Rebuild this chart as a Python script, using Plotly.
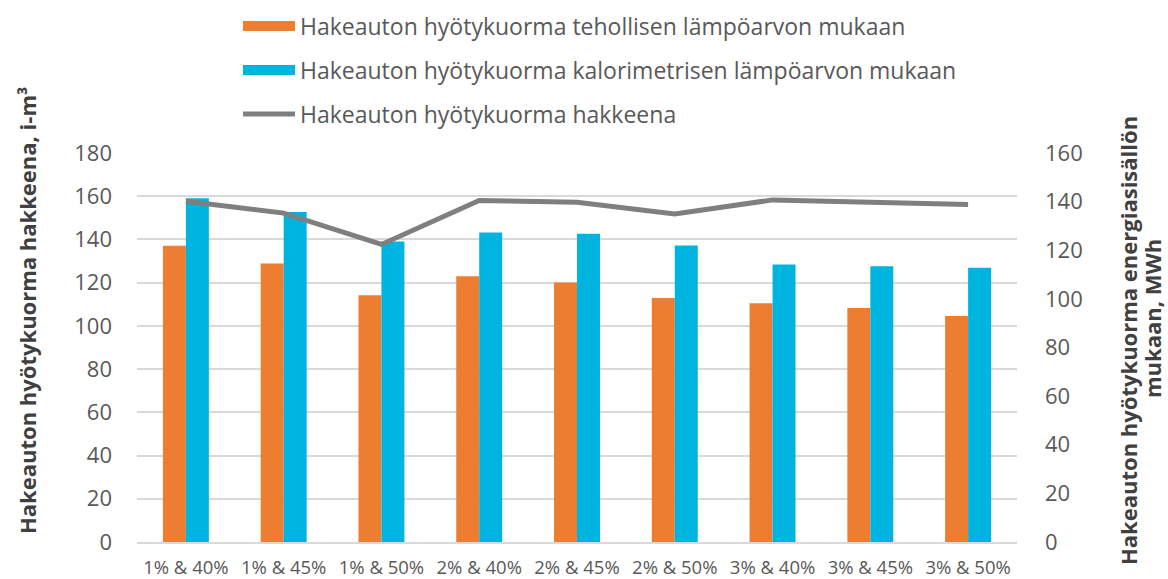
import plotly.graph_objects as go

categories = ["1% & 40%", "1% & 45%", "1% & 50%", "2% & 40%", "2% & 45%",
              "2% & 50%", "3% & 40%", "3% & 45%", "3% & 50%"]
tehollinen_mwh = [121.8, 114.6, 101.5, 109.3, 106.7, 100.4, 98.2, 96.2, 93.0]
kalorimetrinen_mwh = [141.4, 135.7, 123.6, 127.3, 126.8, 122.0, 114.1, 113.4, 112.8]
hakkeena_im3 = [157.7, 152.2, 137.7, 158.0, 157.2, 151.8, 158.3, 157.4, 156.2]

names = ["Hakeauton hyötykuorma tehollisen lämpöarvon mukaan",
         "Hakeauton hyötykuorma kalorimetrisen lämpöarvon mukaan",
         "Hakeauton hyötykuorma hakkeena"]
left_title = "Hakeauton hyötykuorma hakkeena, i-m³"
right_title_1 = "Hakeauton hyötykuorma energiasisällön"
right_title_2 = "mukaan, MWh"

ORANGE = "#ED7D31"
CYAN = "#00B4E0"
GREY = "#7F7F7F"

fig = go.Figure()
fig.add_trace(go.Bar(x=categories, y=tehollinen_mwh, name=names[0],
                     marker=dict(color=ORANGE, line=dict(width=0)),
                     yaxis="y", showlegend=False))
fig.add_trace(go.Bar(x=categories, y=kalorimetrinen_mwh, name=names[1],
                     marker=dict(color=CYAN, line=dict(width=0)),
                     yaxis="y", showlegend=False))
fig.add_trace(go.Scatter(x=categories, y=hakkeena_im3, name=names[2],
                         mode="lines", line=dict(color=GREY, width=5),
                         yaxis="y2", showlegend=False))
# legend entries (wide rectangle swatches like the original)
for nm, col, w, grp in [(names[0], ORANGE, 12, "a"), (names[1], CYAN, 12, "b"), (names[2], GREY, 5, "c")]:
    fig.add_trace(go.Scatter(x=[None], y=[None], name=nm, mode="lines",
                             line=dict(color=col, width=w), yaxis="y2",
                             legendgroup=grp, showlegend=True))

tick_font = dict(family="Open Sans, sans-serif", size=22, color="#595959")
title_font = dict(family="Open Sans, sans-serif", size=22, color="#404040")

PLOT_L, PLOT_R, PLOT_T, PLOT_B = 137, 1017, 153, 542
W, H = 1168, 579

def px_x(x):
    return (x - PLOT_L) / (PLOT_R - PLOT_L)

def px_y(y):
    return (PLOT_B - y) / (PLOT_B - PLOT_T)

fig.update_layout(
    width=W, height=H,
    margin=dict(l=PLOT_L, r=W - PLOT_R, t=PLOT_T, b=H - PLOT_B),
    paper_bgcolor="white", plot_bgcolor="white",
    barmode="group", bargap=0.53, bargroupgap=0,
    font=dict(family="Open Sans, sans-serif", color="#595959"),
    xaxis=dict(tickfont=dict(family="Open Sans, sans-serif", size=18.5, color="#595959"),
               showline=True, linecolor="#D9D9D9", linewidth=1.5, ticks="",
               showgrid=False, ticklabelstandoff=8, automargin=False),
    yaxis=dict(side="right", range=[0, 160], dtick=20, showgrid=False,
               zeroline=False, tickfont=tick_font, ticks="", ticklabelstandoff=27,
               automargin=False),
    yaxis2=dict(side="left", overlaying="y", range=[0, 180], dtick=20,
                showgrid=True, gridcolor="#D9D9D9", gridwidth=1.5,
                zeroline=False, tickfont=tick_font, ticks="", ticklabelstandoff=24,
                automargin=False),
    legend=dict(orientation="v", x=px_x(238), xanchor="left", yref="container", y=0.992,
                yanchor="top", tracegroupgap=11, traceorder="grouped",
                font=dict(family="Open Sans, sans-serif", size=23, color="#595959"),
                itemwidth=52),
    showlegend=True,
    annotations=[
        dict(text="<b>" + left_title + "</b>", xref="paper", yref="paper",
             x=px_x(27), y=px_y(311), textangle=-90, showarrow=False,
             xanchor="center", yanchor="middle", font=title_font),
        dict(text="<b>" + right_title_1 + "</b>", xref="paper", yref="paper",
             x=px_x(1128), y=px_y(341), textangle=-90, showarrow=False,
             xanchor="center", yanchor="middle", font=title_font),
        dict(text="<b>" + right_title_2 + "</b>", xref="paper", yref="paper",
             x=px_x(1152), y=px_y(319), textangle=-90, showarrow=False,
             xanchor="center", yanchor="middle", font=title_font),
    ],
)

fig.write_html("out.html", config={"displayModeBar": False},
               post_script="document.body.style.margin='0';")
